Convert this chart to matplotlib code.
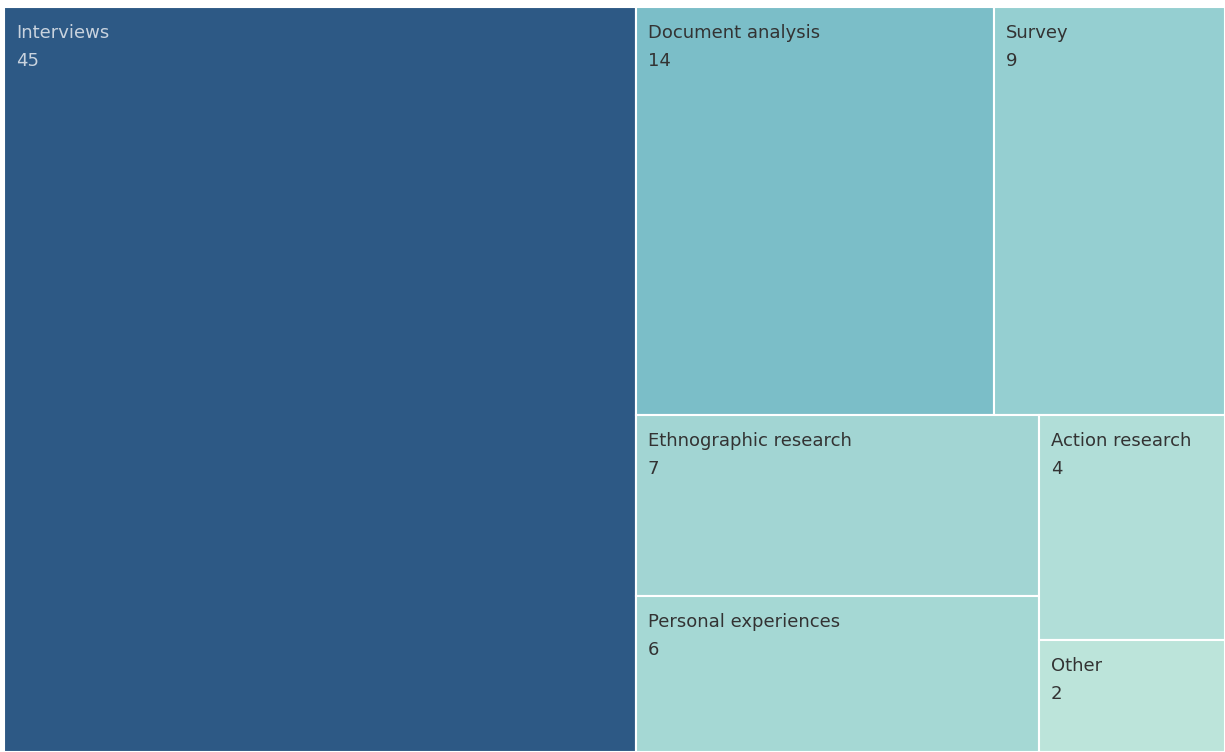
import matplotlib
matplotlib.use("Agg")
import matplotlib.pyplot as plt
from matplotlib.patches import Rectangle

# Data
categories = ["Interviews", "Document analysis", "Survey", "Ethnographic research",
              "Personal experiences", "Action research", "Other"]
counts = [45, 14, 9, 7, 6, 4, 2]
colors = ["#2d5985", "#7bbec8", "#95cfd1", "#a2d5d3", "#a5d8d4", "#b1ded8", "#bce4da"]
text_colors = ["#c9d3de"] + ["#333333"] * 6

# nesting of the treemap (indices into the lists above), split direction alternates
groups = [0, [[1, 2], [[3, 4], [5, 6]]]]

W, H = 1221, 745


def total(node):
    if isinstance(node, list):
        return sum(total(n) for n in node)
    return counts[node]


def layout(node, x, y, w, h, horiz, out):
    if not isinstance(node, list):
        out[node] = (x, y, w, h)
        return
    s = total(node)
    pos = 0.0
    for child in node:
        frac = total(child) / s
        if horiz:
            layout(child, x + pos * w, y, frac * w, h, not horiz, out)
        else:
            layout(child, x, y + pos * h, w, frac * h, not horiz, out)
        pos += frac


rects = {}
layout(groups, 0, 0, W, H, True, rects)

fig = plt.figure(figsize=(12.25, 7.52), dpi=100)
ax = fig.add_axes([4 / 1225, 0, W / 1225, H / 752])
ax.set_xlim(0, W)
ax.set_ylim(H, 0)
ax.axis("off")

for i, name in enumerate(categories):
    x, y, w, h = rects[i]
    ax.add_patch(Rectangle((x, y), w, h, facecolor=colors[i],
                           edgecolor="white", linewidth=1.5))
    ax.text(x + 12, y + 31, name, color=text_colors[i], fontsize=13,
            family="DejaVu Sans", va="baseline", ha="left")
    ax.text(x + 12, y + 59, str(counts[i]), color=text_colors[i], fontsize=13,
            family="DejaVu Sans", va="baseline", ha="left")

fig.savefig("out.png", dpi=100)
